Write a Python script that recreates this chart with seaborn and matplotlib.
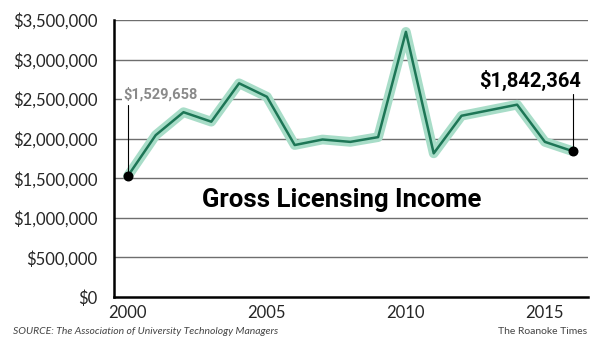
import numpy as np
import pandas as pd
import matplotlib
matplotlib.use("Agg")
import matplotlib.pyplot as plt
import seaborn as sns
from matplotlib.ticker import FuncFormatter

# Data
years = list(range(2000, 2017))
income = [1529658, 2045000, 2335000, 2215000, 2700000, 2530000, 1920000,
          1990000, 1960000, 2020000, 3350000, 1815000, 2290000, 2360000,
          2430000, 1960000, 1842364]
ytick_values = [0, 500000, 1000000, 1500000, 2000000, 2500000, 3000000, 3500000]
xtick_labels = [2000, 2005, 2010, 2015]
title_text = "Gross Licensing Income"
source_text = "SOURCE: The Association of University Technology Managers"
credit_text = "The Roanoke Times"

df = pd.DataFrame({"year": years, "income": income})

sns.set_style("white")
plt.rcParams['font.family'] = ['Lato', 'DejaVu Sans']
narrow = ["Roboto", "DejaVu Sans"]

fig = plt.figure(figsize=(6, 3.5), dpi=100)
ax = fig.add_axes([0.19, 0.1514, 0.79, 0.7915])

# Gridlines
for v in ytick_values[1:]:
    ax.axhline(v, color="#6e6e6e", lw=1.0, zorder=1)

# Halo + line
sns.lineplot(data=df, x="year", y="income", ax=ax, color="#a8ddc8",
             lw=7, solid_capstyle="round", solid_joinstyle="round", zorder=2)
sns.lineplot(data=df, x="year", y="income", ax=ax, color="#1d7656",
             lw=1.8, zorder=3)

# Endpoints
ax.scatter([years[0], years[-1]], [income[0], income[-1]], s=38,
           color="black", zorder=4)

# Annotations
ax.plot([years[0], years[0]], [income[0], 2420000], color="black", lw=0.8, zorder=4)
ax.text(years[0] - 0.15, 2560000, f"${income[0]:,}", color="#8a8a8a",
        fontsize=10.5, fontweight="bold", ha="left", va="center", family=narrow,
        bbox=dict(facecolor="white", edgecolor="none", pad=1.5), zorder=5)
ax.plot([years[-1], years[-1]], [income[-1], 2560000], color="black", lw=0.8, zorder=4)
ax.text(years[-1] + 0.3, 2740000, f"${income[-1]:,}", color="black",
        fontsize=14.5, fontweight="bold", ha="right", va="center",
        family=narrow, zorder=5)

# Title inside the plot
ax.text(2007.7, 1220000, title_text, fontsize=18.5, fontweight="bold",
        ha="center", va="center", color="black", family=narrow)

# Axes
ax.set_xlim(1999.5, 2016.55)
ax.set_ylim(0, 3500000)
ax.set_yticks(ytick_values)
ax.yaxis.set_major_formatter(FuncFormatter(lambda v, p: f"${int(v):,}"))
ax.set_xticks(xtick_labels)
ax.set_xticklabels([str(x) for x in xtick_labels])
ax.set_xticks(np.arange(2000.5, 2017, 1), minor=True)
ax.tick_params(axis="x", which="major", length=0, labelsize=12, pad=6)
ax.tick_params(axis="x", which="minor", length=6, width=1, direction="in",
               color="black")
ax.tick_params(axis="y", length=0, labelsize=12, pad=12)
ax.set_xlabel("")
ax.set_ylabel("")

for side in ["top", "right"]:
    ax.spines[side].set_visible(False)
for side in ["left", "bottom"]:
    ax.spines[side].set_linewidth(1.8)
    ax.spines[side].set_color("black")

# Footer
fig.text(0.022, 0.052, source_text, fontsize=7.5, style="italic",
         color="#444444", ha="left", va="center")
fig.text(0.978, 0.052, credit_text, fontsize=7.5, color="#444444",
         ha="right", va="center")

fig.savefig("out.png", dpi=100)
